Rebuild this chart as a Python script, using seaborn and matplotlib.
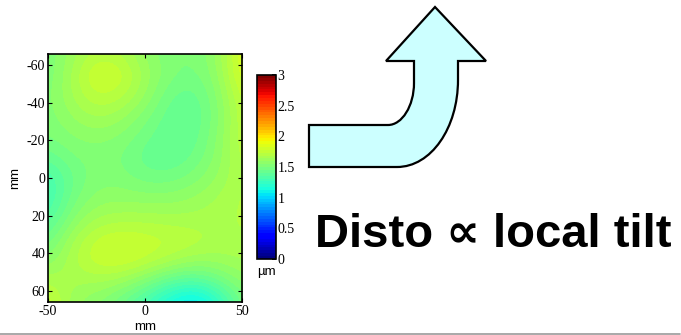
import numpy as np
import seaborn as sns
import matplotlib.pyplot as plt
from matplotlib.path import Path
from matplotlib.patches import PathPatch

# Surface height map (um), rows = y (mm), cols = x (mm)
x_mm = [-50, -37.5, -25, -12.5, 0, 12.5, 25, 37.5, 50]
y_mm = [-66, -55, -44, -33, -22, -11, 0, 11, 22, 33, 44, 55, 66]
height_um = [
    [1.50, 1.62, 1.70, 1.68, 1.58, 1.50, 1.50, 1.60, 1.85],
    [1.50, 1.65, 1.82, 1.78, 1.62, 1.52, 1.48, 1.58, 1.86],
    [1.52, 1.65, 1.75, 1.72, 1.60, 1.45, 1.42, 1.55, 1.78],
    [1.52, 1.60, 1.66, 1.62, 1.52, 1.42, 1.40, 1.53, 1.75],
    [1.50, 1.55, 1.57, 1.54, 1.47, 1.40, 1.42, 1.55, 1.75],
    [1.42, 1.50, 1.52, 1.50, 1.42, 1.40, 1.45, 1.57, 1.72],
    [1.30, 1.45, 1.53, 1.52, 1.47, 1.47, 1.52, 1.60, 1.70],
    [1.28, 1.48, 1.57, 1.58, 1.57, 1.57, 1.60, 1.65, 1.70],
    [1.35, 1.55, 1.65, 1.67, 1.67, 1.66, 1.66, 1.67, 1.70],
    [1.45, 1.65, 1.76, 1.79, 1.77, 1.75, 1.72, 1.68, 1.68],
    [1.55, 1.68, 1.78, 1.80, 1.75, 1.68, 1.62, 1.62, 1.65],
    [1.68, 1.65, 1.65, 1.62, 1.52, 1.40, 1.35, 1.45, 1.58],
    [1.80, 1.60, 1.55, 1.45, 1.30, 1.12, 1.00, 1.20, 1.50],
]
y_ticks = [-60, -40, -20, 0, 20, 40, 60]
x_ticks = [-50, 0, 50]
cbar_ticks = [0, 0.5, 1, 1.5, 2, 2.5, 3]
caption = "Disto \u221d local tilt"

sns.set_theme(style="ticks")
plt.rcParams["font.family"] = ["Liberation Serif", "DejaVu Serif"]
plt.rcParams["axes.unicode_minus"] = False
plt.rcParams["text.color"] = "black"
plt.rcParams["axes.labelcolor"] = "black"
plt.rcParams["xtick.color"] = "black"
plt.rcParams["ytick.color"] = "black"

fig = plt.figure(figsize=(6.81, 3.35), dpi=100)

# decoration layer in pixel coords (arrow + caption + bottom rule)
deco = fig.add_axes([0, 0, 1, 1])
deco.set_xlim(0, 681)
deco.set_ylim(335, 0)
deco.axis("off")

verts = [
    (309, 125), (388, 125),
    (402, 125), (414, 106), (414, 83),
    (414, 61), (386, 61), (435, 7), (486, 61), (458, 61), (458, 80),
    (458, 128), (431, 167), (397, 167),
    (309, 167), (309, 125),
]
codes = [Path.MOVETO, Path.LINETO,
         Path.CURVE4, Path.CURVE4, Path.CURVE4,
         Path.LINETO, Path.LINETO, Path.LINETO, Path.LINETO, Path.LINETO, Path.LINETO,
         Path.CURVE4, Path.CURVE4, Path.CURVE4,
         Path.LINETO, Path.CLOSEPOLY]
deco.add_patch(PathPatch(Path(verts, codes), facecolor="#ccffff",
                         edgecolor="black", lw=1.6, joinstyle="miter"))
deco.text(315, 247, caption, ha="left", va="baseline", fontsize=34,
          fontweight="bold", color="black",
          family=["Liberation Sans", "DejaVu Sans"])
deco.axhline(334, xmin=0, xmax=680 / 681, color="#999999", lw=1.2)

# main map; grid values sit at cell centres
dx = (x_mm[1] - x_mm[0]) / 2
dy = (y_mm[1] - y_mm[0]) / 2
ax = fig.add_axes([0.0705, 0.0985, 0.2849, 0.7403])
cmap = plt.get_cmap("jet", 64)
im = ax.imshow(np.array(height_um), cmap=cmap, vmin=0, vmax=3,
               extent=(x_mm[0] - dx, x_mm[-1] + dx, y_mm[-1] + dy, y_mm[0] - dy),
               interpolation="bicubic", aspect="auto")
ax.set_xlim(-50, 50)
ax.set_ylim(66, -66)
ax.set_xticks(x_ticks)
ax.set_yticks(y_ticks)
ax.tick_params(direction="in", length=3, width=0.8, labelsize=10,
               top=True, right=True, pad=2, colors="black")
for s in ax.spines.values():
    s.set_linewidth(1.2)
    s.set_color("black")
ax.set_xlabel("mm", family=["Liberation Sans"], fontsize=9.5, labelpad=2)
ax.set_ylabel("mm", family=["Liberation Sans"], fontsize=9.5, labelpad=4)

# colour bar
cb = fig.colorbar(im, cax=fig.add_axes([0.3774, 0.2269, 0.0279, 0.549]),
                  ticks=cbar_ticks)
cb.ax.set_yticklabels([f"{t:g}" for t in cbar_ticks])
cb.ax.tick_params(direction="in", length=3, labelsize=10, pad=1, colors="black")
cb.outline.set_linewidth(1.2)
cb.outline.set_edgecolor("black")
cb.ax.text(0.5, -0.04, "\u00b5m", transform=cb.ax.transAxes, ha="center",
           va="top", fontsize=9.5, family=["Liberation Sans", "DejaVu Sans"])

fig.savefig("out.png", dpi=100)
